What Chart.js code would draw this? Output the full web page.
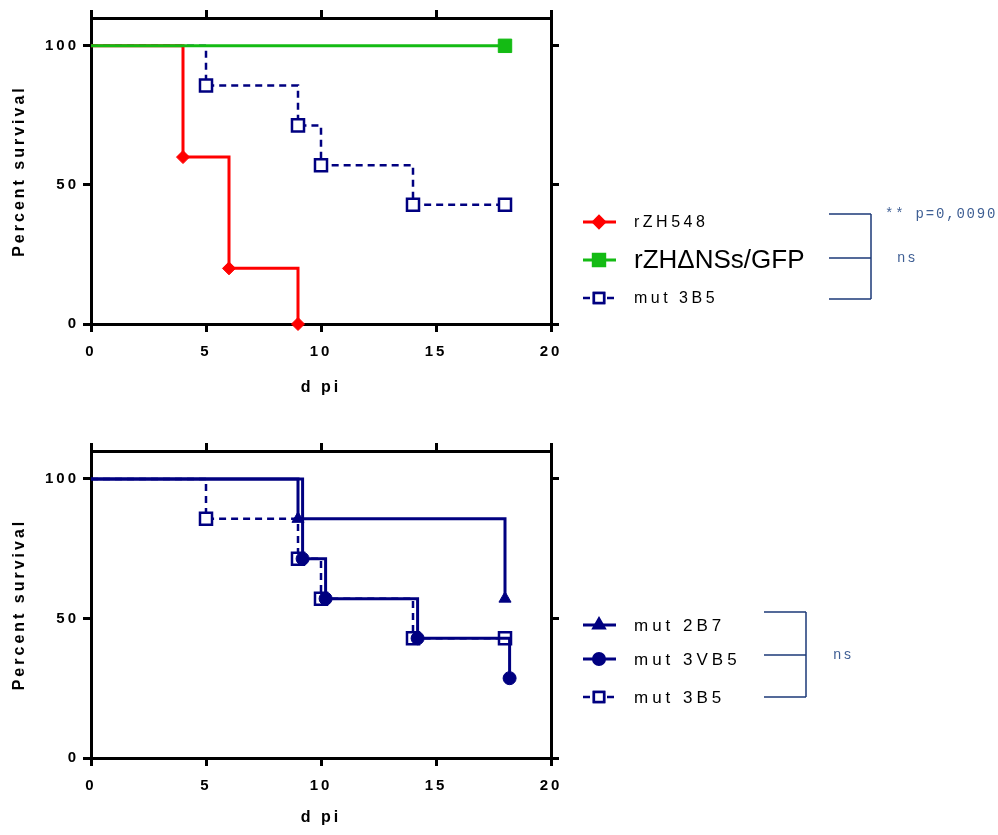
<!DOCTYPE html>
<html>
<head>
<meta charset="utf-8">
<script src="https://cdn.jsdelivr.net/npm/chart.js@4.4.0/dist/chart.umd.min.js"></script>
<style>
  html, body { margin: 0; padding: 0; background: #fff; }
  #wrap { position: relative; width: 998px; height: 835px; }
  canvas { position: absolute; left: 0; }
</style>
</head>
<body>
<div id="wrap">
  <canvas id="topChart" width="998" height="420" style="top:0"></canvas>
  <canvas id="bottomChart" width="998" height="415" style="top:420px"></canvas>
</div>
<script>
// survival data (days post infection / percent survival)
const xTicks = [0, 5, 10, 15, 20];
const yTicks = [0, 50, 100];

const rzh548Days = [0, 4, 6, 9];
const rzh548Surv = [100, 60, 20, 0];
const gfpDays = [0, 18];
const gfpSurv = [100, 100];
const mut3B5Days = [0, 5, 9, 10, 14, 18];
const mut3B5Surv = [100, 85.7, 71.4, 57.1, 42.9, 42.9];
const mut2B7Days = [0, 9, 18];
const mut2B7Surv = [100, 85.7, 57.1];
const mut3VB5Days = [0, 9.2, 10.2, 14.2, 18.2];
const mut3VB5Surv = [100, 71.4, 57.1, 42.9, 28.6];

const topNames = ['rZH548', 'rZH\u0394NSs/GFP', 'mut 3B5'];
const bottomNames = ['mut 2B7', 'mut 3VB5', 'mut 3B5'];
const topStats = ['** p=0,0090', 'ns'];
const bottomStats = ['ns'];

const RED = '#ff0000';
const GREEN = '#14bb14';
const NAVY = '#000080';
const FONT = '"Liberation Sans", Arial, sans-serif';

const toXY = (xs, ys) => xs.map((x, i) => ({ x: x, y: ys[i] }));
const marks = (xs, r) => xs.map((x, i) => i === 0 ? 0 : r);

function survSet(name, xs, ys, color, style, r, dashed, order) {
  return {
    label: name,
    data: toXY(xs, ys),
    borderColor: color,
    backgroundColor: style === 'rect' && dashed ? '#fff' : color,
    pointBackgroundColor: style === 'rect' && dashed ? '#fff' : color,
    pointBorderColor: color,
    pointBorderWidth: dashed ? 2.5 : 1,
    borderWidth: dashed ? 2.5 : 3,
    borderDash: dashed ? [7, 5] : [],
    stepped: 'before',
    pointStyle: style,
    pointRadius: marks(xs, r),
    pointHoverRadius: marks(xs, r),
    clip: false,
    order: order
  };
}

const axisLine = { display: true, width: 3, color: '#000' };
const tickGrid = { drawOnChartArea: false, drawTicks: true, tickLength: 8, tickWidth: 3, lineWidth: 3, tickColor: '#000', color: '#000' };
const fixTicks = vals => scale => { scale.ticks = vals.map(v => ({ value: v })); };

function makeScales(topH, bottomH, titlePadBottom) {
  return {
    x: {
      type: 'linear', position: 'bottom', min: 0, max: 20,
      afterBuildTicks: fixTicks(xTicks),
      afterFit: s => { s.height = bottomH; },
      grid: tickGrid, border: axisLine,
      ticks: { color: '#000', padding: 11, font: { family: FONT, size: 15, weight: 'bold' } },
      title: { display: true, text: 'd pi', color: '#000', padding: { top: 0, bottom: titlePadBottom },
               font: { family: FONT, size: 16, weight: 'bold' } }
    },
    x2: {
      type: 'linear', position: 'top', min: 0, max: 20,
      afterBuildTicks: fixTicks(xTicks),
      afterFit: s => { s.height = topH; },
      grid: tickGrid, border: axisLine,
      ticks: { display: false }
    },
    y: {
      type: 'linear', position: 'left', min: 0, max: 110,
      afterBuildTicks: fixTicks(yTicks),
      afterFit: s => { s.width = 91; },
      grid: tickGrid, border: axisLine,
      ticks: { color: '#000', padding: 4, font: { family: FONT, size: 15, weight: 'bold' } },
      title: { display: true, text: 'Percent survival', color: '#000', padding: { top: 10, bottom: 0 },
               font: { family: FONT, size: 16, weight: 'bold' } }
    },
    y2: {
      type: 'linear', position: 'right', min: 0, max: 110,
      afterBuildTicks: fixTicks(yTicks),
      afterFit: s => { s.width = 998 - 551; },
      grid: tickGrid, border: axisLine,
      ticks: { display: false }
    }
  };
}

// letter spacing for axis text, like the original export
const spacing = {
  id: 'spacing',
  beforeDraw(chart) { chart.ctx.letterSpacing = '3px'; }
};

// legend with line + marker, plus comparison bracket
const kmLegend = {
  id: 'kmLegend',
  afterDraw(chart, args, opts) {
    const ctx = chart.ctx;
    ctx.save();
    chart.data.datasets.forEach((d, i) => {
      const y = opts.rows[i];
      ctx.save();
      ctx.strokeStyle = d.borderColor;
      ctx.lineWidth = d.borderWidth;
      ctx.setLineDash(d.borderDash);
      ctx.beginPath();
      ctx.moveTo(583, y);
      ctx.lineTo(616, y);
      ctx.stroke();
      ctx.setLineDash([]);
      Chart.helpers.drawPoint(ctx, {
        pointStyle: d.pointStyle, radius: Math.max(...d.pointRadius) * 0.85,
        borderWidth: d.pointBorderWidth, rotation: 0
      }, 599, y);
      ctx.fillStyle = d.pointBackgroundColor;
      ctx.strokeStyle = d.pointBorderColor;
      ctx.lineWidth = d.pointBorderWidth;
      ctx.fill();
      ctx.stroke();
      ctx.restore();
      const big = opts.big === i;
      ctx.fillStyle = '#000';
      ctx.textBaseline = 'middle';
      ctx.textAlign = 'left';
      ctx.font = (big ? '26px ' : opts.size + 'px ') + FONT;
      ctx.letterSpacing = big ? '0px' : opts.spacing;
      ctx.fillText(d.label, 634, y + 1);
    });
    const b = opts.bracket;
    ctx.strokeStyle = '#1d3a78';
    ctx.lineWidth = 1.5;
    ctx.letterSpacing = '0px';
    ctx.beginPath();
    b.ys.forEach(y => { ctx.moveTo(b.x0, y); ctx.lineTo(b.x1, y); });
    ctx.moveTo(b.x1, b.ys[0]);
    ctx.lineTo(b.x1, b.ys[b.ys.length - 1]);
    ctx.stroke();
    ctx.fillStyle = '#3f5f94';
    ctx.font = '14px "Liberation Mono", "Courier New", monospace';
    ctx.letterSpacing = '1.8px';
    ctx.textBaseline = 'middle';
    opts.stats.forEach((s, i) => ctx.fillText(s, opts.statPos[i][0], opts.statPos[i][1]));
    ctx.restore();
  }
};

function baseOptions(topH, bottomH, titlePadBottom, legendOpts) {
  return {
    responsive: false,
    animation: false,
    events: [],
    layout: { padding: 0 },
    scales: makeScales(topH, bottomH, titlePadBottom),
    plugins: { legend: { display: false }, tooltip: { enabled: false }, kmLegend: legendOpts }
  };
}

new Chart(document.getElementById('topChart'), {
  type: 'line',
  data: {
    datasets: [
      survSet(topNames[0], rzh548Days, rzh548Surv, RED, 'rectRot', 6.5, false, 1),
      survSet(topNames[1], gfpDays, gfpSurv, GREEN, 'rect', 9.5, false, 0),
      survSet(topNames[2], mut3B5Days, mut3B5Surv, NAVY, 'rect', 8.5, true, 2)
    ]
  },
  options: baseOptions(18, 96, 23, {
    rows: [222, 260, 298], big: 1, size: 16, spacing: '3.5px',
    bracket: { x0: 829, x1: 871, ys: [214, 258, 299] },
    stats: topStats, statPos: [[885, 214], [897, 258]]
  }),
  plugins: [spacing, kmLegend]
});

new Chart(document.getElementById('bottomChart'), {
  type: 'line',
  data: {
    datasets: [
      survSet(bottomNames[0], mut2B7Days, mut2B7Surv, NAVY, 'triangle', 7, false, 0),
      survSet(bottomNames[1], mut3VB5Days, mut3VB5Surv, NAVY, 'circle', 6.5, false, 1),
      survSet(bottomNames[2], mut3B5Days, mut3B5Surv, NAVY, 'rect', 8.5, true, 2)
    ]
  },
  options: baseOptions(31, 77, 8, {
    rows: [205, 239, 277], big: -1, size: 17, spacing: '4px',
    bracket: { x0: 764, x1: 806, ys: [192, 235, 277] },
    stats: bottomStats, statPos: [[833, 235]]
  }),
  plugins: [spacing, kmLegend]
});
</script>
</body>
</html>
